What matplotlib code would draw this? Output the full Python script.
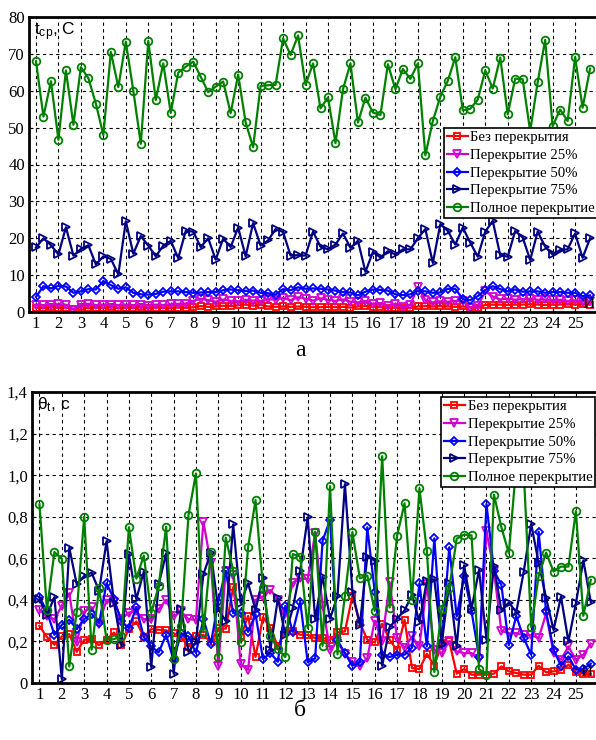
import numpy as np
import matplotlib
matplotlib.use("Agg")
import matplotlib.pyplot as plt
from matplotlib.ticker import FuncFormatter

# ---- data: panel (а), average temperature, 3 points per unit on the x axis ----
t_none = [1.2, 1.0, 1.3, 1.1, 1.2, 0.9, 1.3, 1.0, 1.2, 1.1,
          1.3, 1.0, 1.2, 1.1, 1.3, 1.0, 1.2, 1.1, 1.0, 1.2,
          1.1, 1.3, 1.6, 1.4, 1.5, 1.7, 1.6, 1.8, 2.0, 1.7,
          1.9, 1.5, 1.4, 1.5, 1.4, 1.5, 1.4, 1.3, 1.3, 1.4,
          1.3, 1.4, 1.2, 1.5, 1.6, 1.4, 1.3, 1.1, 1.2, 1.0,
          1.1, 1.5, 1.6, 1.5, 1.6, 1.5, 1.4, 1.5, 1.3, 1.2,
          1.9, 2.0, 2.0, 1.9, 2.0, 2.0, 2.1, 2.0, 1.9, 2.0,
          2.0, 2.1, 2.0, 2.1, 2.0]
t_25 = [2.0, 1.8, 1.9, 2.1, 2.0, 0.6, 2.0, 2.2, 1.9, 2.0,
        1.8, 1.9, 2.0, 1.8, 2.0, 1.7, 2.0, 1.9, 2.1, 2.2,
        2.3, 3.0, 3.6, 3.2, 2.8, 3.4, 3.0, 2.9, 3.3, 3.1,
        3.0, 3.5, 3.3, 3.8, 3.2, 4.0, 3.6, 3.1, 3.7, 3.3,
        3.0, 3.4, 2.8, 2.6, 3.0, 2.2, 2.4, 1.5, 2.2, 1.4,
        2.0, 6.8, 3.2, 2.6, 2.9, 2.8, 3.0, 2.9, 1.2, 1.6,
        5.6, 4.2, 3.4, 3.6, 3.3, 3.5, 3.6, 3.3, 3.4, 3.2,
        3.3, 3.0, 3.2, 2.8, 3.0]
t_50 = [4.1, 7.0, 6.4, 7.1, 6.9, 5.2, 5.6, 6.2, 6.1, 8.4,
        7.3, 6.3, 6.7, 5.2, 4.8, 4.7, 4.9, 5.5, 5.6, 5.6,
        5.4, 5.2, 5.3, 5.4, 5.4, 5.9, 6.1, 5.9, 5.7, 5.8,
        5.2, 5.1, 4.7, 6.2, 5.9, 6.7, 6.3, 6.4, 6.3, 6.1,
        5.8, 5.4, 5.3, 4.5, 5.5, 6.1, 6.0, 5.8, 4.8, 4.6,
        4.8, 5.7, 5.6, 5.2, 5.3, 6.3, 6.3, 3.5, 3.2, 4.3,
        6.0, 7.0, 6.2, 5.6, 6.1, 5.5, 5.6, 5.6, 5.2, 5.4,
        5.4, 5.2, 5.2, 4.3, 4.5]
t_75 = [17.5, 20.0, 18.1, 15.6, 23.0, 15.3, 17.1, 18.1, 12.9, 15.1,
        14.4, 10.2, 24.6, 15.8, 20.6, 18.0, 15.1, 18.0, 19.3, 14.6,
        22.0, 21.8, 17.6, 20.0, 14.2, 19.9, 17.6, 22.9, 15.1, 24.1,
        18.0, 19.4, 22.5, 21.7, 15.3, 15.4, 15.3, 21.8, 17.7, 17.0,
        18.3, 21.3, 17.4, 19.3, 10.9, 16.3, 14.8, 16.5, 15.6, 17.0,
        17.0, 20.0, 22.5, 13.3, 23.8, 22.0, 18.3, 22.9, 18.8, 15.0,
        21.8, 24.7, 15.4, 15.0, 22.0, 20.2, 14.1, 21.8, 17.7, 15.6,
        16.8, 17.0, 21.3, 14.7, 20.0]
t_full = [68.0, 53.0, 62.6, 46.7, 65.5, 50.8, 66.4, 63.4, 56.5, 48.0,
          70.5, 61.0, 73.3, 60.0, 45.6, 73.5, 57.5, 67.4, 54.0, 64.9,
          66.5, 67.9, 63.8, 59.6, 61.1, 62.5, 53.9, 64.4, 51.4, 44.7,
          61.3, 61.5, 61.6, 74.2, 69.7, 75.0, 61.6, 67.4, 55.2, 58.2,
          45.8, 60.4, 67.4, 51.4, 58.1, 54.1, 53.4, 67.2, 60.4, 65.9,
          63.2, 67.4, 42.5, 51.8, 58.4, 62.7, 69.1, 54.7, 55.1, 57.6,
          65.5, 60.6, 69.0, 53.6, 63.3, 63.1, 49.0, 62.3, 73.8, 50.4,
          54.9, 51.8, 69.1, 55.4, 66.0]

# ---- data: panel (б), time ----
th_none = [0.275, 0.221, 0.184, 0.224, 0.235, 0.15, 0.208, 0.211, 0.182, 0.208,
           0.243, 0.182, 0.261, 0.296, 0.221, 0.259, 0.256, 0.253, 0.24, 0.221,
           0.173, 0.227, 0.232, 0.195, 0.264, 0.261, 0.461, 0.22, 0.323, 0.125,
           0.317, 0.264, 0.176, 0.25, 0.25, 0.232, 0.232, 0.216, 0.216, 0.208,
           0.243, 0.248, 0.419, 0.29, 0.208, 0.195, 0.285, 0.208, 0.157, 0.304,
           0.072, 0.067, 0.141, 0.083, 0.192, 0.2, 0.045, 0.067, 0.04, 0.04,
           0.04, 0.045, 0.08, 0.056, 0.048, 0.04, 0.04, 0.083, 0.051, 0.056,
           0.061, 0.088, 0.051, 0.045, 0.045]
th_25 = [0.352, 0.32, 0.307, 0.371, 0.432, 0.195, 0.344, 0.365, 0.285, 0.4,
         0.392, 0.307, 0.339, 0.344, 0.307, 0.307, 0.355, 0.4, 0.32, 0.344,
         0.307, 0.304, 0.776, 0.576, 0.083, 0.54, 0.52, 0.09, 0.064, 0.4,
         0.416, 0.448, 0.4, 0.33, 0.483, 0.504, 0.5, 0.72, 0.37, 0.16,
         0.2, 0.14, 0.1, 0.08, 0.12, 0.3, 0.2, 0.485, 0.216, 0.168,
         0.224, 0.176, 0.477, 0.16, 0.144, 0.2, 0.152, 0.144, 0.144, 0.115,
         0.73, 0.54, 0.25, 0.24, 0.24, 0.23, 0.23, 0.216, 0.333, 0.144,
         0.112, 0.176, 0.112, 0.136, 0.189]
th_50 = [0.413, 0.344, 0.232, 0.28, 0.304, 0.259, 0.307, 0.333, 0.288, 0.48,
         0.403, 0.296, 0.264, 0.365, 0.221, 0.176, 0.147, 0.232, 0.11, 0.24,
         0.224, 0.144, 0.307, 0.189, 0.392, 0.539, 0.336, 0.339, 0.246, 0.33,
         0.115, 0.144, 0.102, 0.371, 0.246, 0.392, 0.1, 0.118, 0.685, 0.784,
         0.205, 0.144, 0.083, 0.099, 0.749, 0.44, 0.136, 0.125, 0.136, 0.136,
         0.17, 0.48, 0.176, 0.696, 0.189, 0.653, 0.32, 0.515, 0.344, 0.125,
         0.861, 0.541, 0.472, 0.182, 0.323, 0.216, 0.136, 0.728, 0.344, 0.16,
         0.083, 0.128, 0.064, 0.067, 0.093]
th_75 = [0.403, 0.326, 0.413, 0.019, 0.651, 0.474, 0.515, 0.531, 0.443, 0.682,
         0.387, 0.182, 0.619, 0.403, 0.536, 0.077, 0.474, 0.624, 0.045, 0.358,
         0.15, 0.198, 0.523, 0.627, 0.355, 0.298, 0.763, 0.384, 0.48, 0.352,
         0.507, 0.16, 0.408, 0.23, 0.36, 0.541, 0.797, 0.307, 0.512, 0.309,
         0.419, 0.957, 0.44, 0.28, 0.608, 0.589, 0.083, 0.269, 0.31, 0.349,
         0.424, 0.294, 0.493, 0.499, 0.189, 0.48, 0.176, 0.566, 0.358, 0.544,
         0.208, 0.563, 0.349, 0.387, 0.341, 0.536, 0.765, 0.579, 0.41, 0.255,
         0.415, 0.2, 0.383, 0.59, 0.39]
th_full = [0.859, 0.352, 0.63, 0.598, 0.08, 0.342, 0.8, 0.16, 0.456, 0.208,
           0.211, 0.224, 0.749, 0.502, 0.613, 0.336, 0.467, 0.752, 0.115, 0.272,
           0.808, 1.008, 0.246, 0.632, 0.125, 0.699, 0.541, 0.195, 0.653, 0.88,
           0.459, 0.227, 0.163, 0.125, 0.62, 0.608, 0.264, 0.728, 0.179, 0.947,
           0.138, 0.419, 0.726, 0.504, 0.517, 0.347, 1.091, 0.363, 0.709, 0.864,
           0.4, 0.936, 0.635, 0.053, 0.357, 0.456, 0.694, 0.714, 0.71, 0.067,
           0.04, 0.906, 0.749, 0.624, 1.05, 1.02, 0.269, 0.515, 0.627, 0.536,
           0.56, 0.56, 0.827, 0.323, 0.496]

labels = ["Без перекрытия", "Перекрытие 25%", "Перекрытие 50%",
          "Перекрытие 75%", "Полное перекрытие"]
colors = ["#ff0000", "#d000d0", "#0000ff", "#000080", "#008000"]
markers = ["s", "v", "D", ">", "o"]
msizes = [4.5, 6, 4.5, 6, 5.5]
xticks = list(range(1, 26))

SERIF = "Liberation Serif"
SANS = "Liberation Sans"

fig = plt.figure(figsize=(5.96, 7.4), dpi=100)


def draw_panel(ax, series, yticks, fmt, legend_anchor):
    x = 1 + np.arange(len(series[0])) / 3  # three measurements per unit
    for vals, c, m, s, lab in zip(series, colors, markers, msizes, labels):
        ax.plot(x, vals, color=c, marker=m, ms=s, mfc="none", mew=1.3,
                lw=1.6, label=lab)

    # dashed black grid like the original
    ax.set_axisbelow(True)
    ax.grid(True, color="black", linestyle=(0, (3, 3)), linewidth=0.8)

    ax.set_xticks(xticks)
    ax.set_yticks(yticks)
    ax.yaxis.set_major_formatter(FuncFormatter(fmt))
    ax.tick_params(direction="in", length=3, labelsize=12, pad=3)
    for lbl in ax.get_xticklabels() + ax.get_yticklabels():
        lbl.set_fontfamily(SERIF)

    for side in ["left", "bottom", "top"]:
        ax.spines[side].set_linewidth(2)
    ax.spines["right"].set_visible(False)

    leg = ax.legend(loc="upper left", bbox_to_anchor=legend_anchor,
                    bbox_transform=fig.transFigure,
                    prop={"family": SERIF, "size": 10.6},
                    fancybox=False, framealpha=1, edgecolor="black",
                    borderpad=0.2, labelspacing=0.3, handlelength=1.4,
                    handletextpad=0.2, borderaxespad=0)
    leg.get_frame().set_linewidth(1.2)


# ---- panel (а) ----
ax1 = fig.add_axes([29 / 596, 1 - 312 / 740, 567 / 596, 295 / 740])
draw_panel(ax1, [t_none, t_25, t_50, t_75, t_full],
           list(range(0, 90, 10)), lambda v, p: f"{v:.0f}",
           (444 / 596, 1 - 128 / 740))
ax1.set_xlim(0.69, 25.93)
ax1.set_ylim(0, 80)
ax1.text(0.008, 0.99, r"$\mathregular{t_{ср}}$, С", transform=ax1.transAxes,
         ha="left", va="top", fontsize=12.5, fontfamily=SANS)

# ---- panel (б) ----
ax2 = fig.add_axes([32 / 596, 1 - 683 / 740, 564 / 596, 291 / 740])
draw_panel(ax2, [th_none, th_25, th_50, th_75, th_full],
           [0, 0.2, 0.4, 0.6, 0.8, 1.0, 1.2, 1.4],
           lambda v, p: "0" if abs(v) < 1e-9 else f"{v:.1f}".replace(".", ","),
           (441 / 596, 1 - 397 / 740))
ax2.set_xlim(0.665, 25.9)
ax2.set_ylim(0, 1.4)
ax2.text(0.008, 0.99, r"$\mathregular{\theta_{t}}$, с", transform=ax2.transAxes,
         ha="left", va="top", fontsize=12.5, fontfamily=SANS)

# panel captions and the axis-label fragment at the right edge
fig.text(300 / 596, 1 - 350 / 740, "а", ha="center", va="center",
         fontsize=17, fontfamily=SERIF)
fig.text(300 / 596, 1 - 711 / 740, "б", ha="center", va="center",
         fontsize=17, fontfamily=SERIF)
fig.text(583 / 596, 1 - 304 / 740, "И", ha="left", va="center",
         fontsize=12, fontfamily=SERIF)
fig.text(581 / 596, 1 - 672 / 740, "И", ha="left", va="center",
         fontsize=12, fontfamily=SERIF)

fig.savefig("out.png", dpi=100)
